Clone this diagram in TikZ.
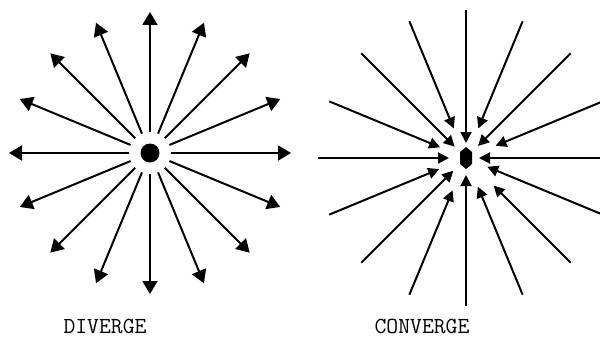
\documentclass[tikz,border=0pt]{standalone}
\usepackage{xcolor}
\usepackage{tikz}
\usetikzlibrary{arrows.meta,positioning,calc}

\begin{document}
\begin{tikzpicture}[x=1pt, y=-1pt,
  ray/.style={line width=2pt, -{Triangle[length=13pt, width=15pt]}},
  inray/.style={line width=2pt, -{Triangle[length=11pt, width=11pt]}},
  hub/.style={circle, fill=black, inner sep=0pt, minimum size=19pt},
  caption/.style={font=\fontsize{23}{26}\selectfont\ttfamily, inner sep=0pt, anchor=base}]

\useasboundingbox (0,0) rectangle (600,337);

\node[hub] (src) at (150,153) {};
\coordinate (sink) at (466,158);
\fill (sink) ++(0,-11) -- ++(6,5) -- ++(0,12) -- ++(-6,5) -- ++(-6,-5) -- ++(0,-12) -- cycle;

% diverging rays
\foreach \a in {0,22.5,...,337.5} {
  \path (src) ++(\a:21) coordinate (din) ++(\a:120) coordinate (dout);
  \draw[ray] (din) -- (dout);
}

% converging rays, tips staggered
\foreach \a/\r in {0/13, 22.5/23, 45/39, 67.5/31, 90/17, 112.5/35, 135/18, 157.5/29,
                   180/17, 202.5/28, 225/16, 247.5/32, 270/15, 292.5/32, 315/17, 337.5/32} {
  \path (sink) ++(\a:\r) coordinate (cin);
  \path (sink) ++(\a:148) coordinate (cout);
  \draw[inray] (cout) -- (cin);
}

\node[caption] (divlabel) at (105,333) {DIVERGE};
\node[caption] (convlabel) at (422,333) {CONVERGE};
\end{tikzpicture}
\end{document}
